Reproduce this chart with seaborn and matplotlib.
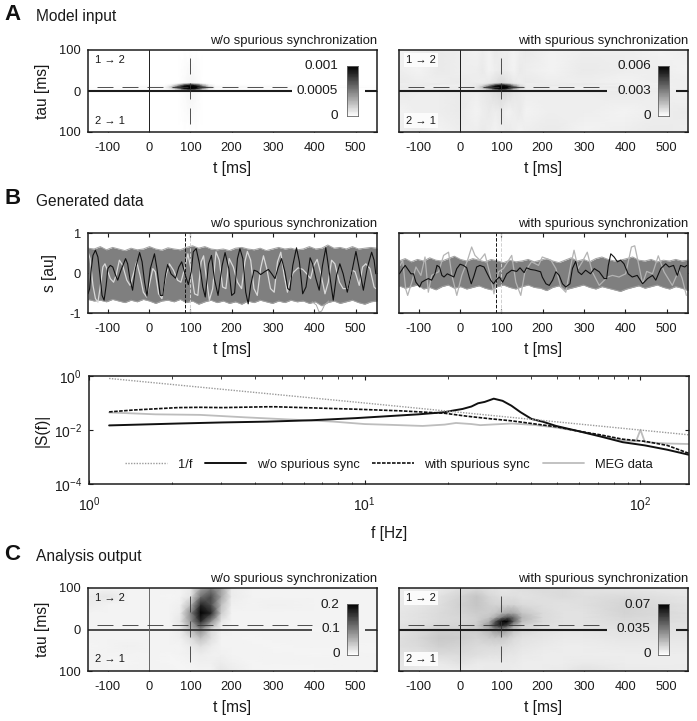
#!/usr/bin/env python3
# coding=utf-8
"""Model input, generated data and analysis output panels."""

from matplotlib import pyplot as plt
import numpy as np
import seaborn as sns

W, H = 697, 721

# --- panel A heat values ---
a_left_t = [-148, 40, 55, 70, 85, 100, 115, 130, 145, 160, 552]
a_left_tau = [-100, -1, 2, 6, 10, 14, 18, 21, 100]
a_left_vals = [
    [0, 0, 0, 0, 0, 0, 0, 0, 0, 0, 0],
    [0, 0, 0, 0, 0.00002, 0.00004, 0.00002, 0, 0, 0, 0],
    [0, 0, 0.00001, 0.00008, 0.0003, 0.0005, 0.0003, 0.00008, 0.00001, 0, 0],
    [0, 0.00001, 0.00008, 0.0004, 0.0009, 0.001, 0.0009, 0.0004, 0.00008, 0.00001, 0],
    [0, 0.00004, 0.00025, 0.0008, 0.001, 0.001, 0.001, 0.0008, 0.00025, 0.00004, 0],
    [0, 0.00001, 0.00008, 0.0004, 0.0009, 0.001, 0.0009, 0.0004, 0.00008, 0.00001, 0],
    [0, 0, 0.00001, 0.00008, 0.0003, 0.0005, 0.0003, 0.00008, 0.00001, 0, 0],
    [0, 0, 0, 0, 0.00002, 0.00004, 0.00002, 0, 0, 0, 0],
    [0, 0, 0, 0, 0, 0, 0, 0, 0, 0, 0],
]

a_right_t = [-148, -100, -50, 0, 40, 55, 70, 85, 100, 115, 130, 145, 160, 220, 300, 400, 480, 552]
a_right_tau = [-100, -50, -1, 2, 6, 10, 14, 18, 21, 50, 100]
# in units of 1e-4
a_right_vals = [
    [4, 5, 3, 4, 4, 5, 4, 3, 4, 5, 4, 3, 4, 5, 3, 4, 5, 4],
    [3, 4, 4, 5, 3, 4, 5, 4, 5, 3, 4, 5, 3, 4, 4, 3, 4, 5],
    [5, 4, 4, 5, 4, 5, 6, 8, 9, 8, 6, 5, 4, 4, 4, 5, 4, 3],
    [4, 5, 4, 3, 5, 5, 9, 20, 32, 20, 8, 5, 5, 3, 4, 4, 4, 3],
    [4, 4, 5, 4, 5, 9, 26, 52, 60, 52, 25, 8, 4, 4, 3, 4, 4, 4],
    [5, 4, 4, 5, 6, 18, 48, 60, 60, 60, 46, 16, 5, 4, 4, 5, 3, 4],
    [4, 5, 3, 4, 5, 9, 26, 52, 60, 52, 25, 8, 4, 5, 4, 3, 4, 4],
    [4, 4, 5, 4, 5, 5, 9, 20, 32, 20, 8, 5, 4, 4, 5, 4, 3, 4],
    [5, 4, 4, 5, 4, 4, 5, 7, 9, 7, 5, 4, 5, 4, 4, 3, 4, 4],
    [4, 3, 5, 4, 4, 5, 3, 4, 5, 4, 3, 5, 4, 3, 5, 4, 4, 3],
    [3, 4, 5, 4, 3, 4, 3, 5, 4, 4, 3, 4, 5, 3, 4, 4, 3, 4],
]

# --- panel C heat values ---
c_left_t = [-148, -100, -50, 0, 50, 75, 100, 125, 150, 175, 200, 250, 300, 400, 552]
c_left_tau = [-100, -80, -60, -40, -20, 0, 20, 40, 60, 80, 100]
# in units of 0.01
c_left_vals = [
    [1, 1, 1, 1, 1, .8, .8, 1, 1, 2, 1.5, 1, .8, .8, 1],
    [1, .8, .8, 1, .8, .8, 1, 1.2, 1.2, 1.5, 1.2, .8, 1, 1, 1],
    [1, 1, 1, 1, .8, 1, 1.2, 1.5, 1.2, 1.2, 1, 1, 1, .8, 1],
    [.8, 1, 1.2, 1, 1, 1, 1.5, 2.5, 1.5, 1, 1, 1, .8, 1, .8],
    [1, 1, 1, 1, 1, 1.2, 2.5, 5, 2.5, 1, 1, .8, 1, 1, 1],
    [1, 1, 1, 1, 1, 1.5, 5, 9, 3, 1.2, 1, 1, 1, .8, 1],
    [1, 1, 1, 1, 1, 2, 8, 17, 9, 2, 1, 1, 1, 1, 1],
    [1, 1, 1, 1, 1, 1.5, 9, 20, 17, 4, 1, 1, 1, 1, 1],
    [1.5, 1, 1, 1, 1, 1.2, 5, 17, 14, 5, 1.2, 1, 1.2, 1, 1],
    [1.5, 2, 1, 1, .8, 1, 2, 11, 14, 7, 1.5, 1, 1, 1, 1],
    [1, 1, 1, 1, 1, 1, 1.5, 7, 10, 7, 1.5, 1, 1, 1, 1],
]

c_right_t = [-148, -100, -50, 0, 40, 70, 85, 100, 115, 130, 150, 200, 250, 300, 400, 552]
c_right_tau = [-100, -80, -60, -40, -20, 0, 10, 20, 30, 40, 60, 80, 100]
# in units of 0.001
c_right_vals = [
    [7, 6, 5, 5, 5, 6, 6, 6, 6, 5, 5, 5, 6, 8, 6, 5],
    [7, 6, 6, 8, 6, 6, 6, 6, 6, 6, 5, 5, 5, 6, 5, 5],
    [8, 8, 10, 10, 9, 8, 8, 8, 7, 7, 6, 5, 5, 5, 5, 5],
    [9, 10, 13, 12, 10, 10, 10, 10, 9, 8, 7, 6, 5, 5, 6, 6],
    [9, 11, 15, 14, 12, 14, 15, 15, 13, 10, 8, 7, 6, 6, 7, 7],
    [8, 10, 13, 13, 14, 20, 28, 30, 24, 16, 11, 8, 7, 7, 8, 8],
    [8, 9, 11, 12, 14, 28, 52, 62, 50, 24, 13, 9, 8, 8, 9, 8],
    [7, 8, 10, 11, 13, 22, 46, 68, 70, 44, 18, 10, 8, 8, 10, 9],
    [7, 8, 10, 11, 13, 16, 22, 36, 46, 40, 20, 10, 8, 8, 11, 9],
    [7, 8, 10, 12, 14, 14, 16, 20, 24, 24, 16, 10, 8, 8, 12, 9],
    [6, 7, 9, 13, 16, 13, 12, 12, 12, 12, 10, 9, 8, 9, 12, 8],
    [5, 6, 8, 12, 16, 11, 10, 9, 9, 9, 8, 9, 10, 9, 10, 7],
    [5, 5, 6, 9, 10, 8, 8, 7, 7, 8, 9, 10, 10, 8, 7, 6],
]

# --- panel B traces ---
left_black_t = [-148, -144, -140, -136, -130, -124, -119, -114, -109, -104, -100, -94, -88, -81, -76,
                -68, -57, -52, -46, -40, -33, -23, -17, -11, -5, 3, 13, 19, 27, 33, 40, 45, 53, 64,
                72, 79, 88, 95, 102, 107, 114, 122, 130, 136, 144, 151, 158, 167, 177, 184, 193,
                200, 207, 214, 220, 227, 234, 240, 246, 254, 262, 270, 281, 289, 297, 305, 313,
                321, 329, 336, 341, 348, 357, 364, 372, 380, 390, 396, 404, 412, 420, 428, 434,
                446, 454, 462, 470, 480, 491, 501, 509, 519, 528, 539, 545, 549]
left_black_s = [-.52, -.39, .11, .44, .57, .40, -.06, -.56, -.68, -.31, .11, .19, .15, -.06, -.18,
                .07, .36, .23, -.18, -.43, .11, .51, .28, -.23, -.58, .11, .48, .11, -.56, -.56, -.02, .21, -.02, -.13,
                .15, .28, -.06, -.29, .03, .53, .61, .23, -.35, -.60, .23, .44, -.14, -.56, .19, .51, .11,
                -.56, -.50, .36, .61, .36, -.48, -.77, -.31, .07, .04, -.04, .04, .09, -.02, -.14, .15,
                .36, .03, -.39, -.43, .19, .63, .28, -.52, -.35, .38, .23, -.14, -.43, .19, .63, .19,
                -.68, -.06, .23, -.02, -.48, .03, .54, .11, -.43, .11, .52, .32, -.02]
left_light_t = [-148, -143, -136, -130, -124, -119, -112, -107, -101, -94, -86, -80, -72, -64, -54,
                -46, -38, -30, -22, -14, -6, 2, 9, 15, 23, 31, 41, 49, 59, 69, 77, 86, 94, 101, 110,
                118, 126, 132, 140, 146, 154, 162, 170, 178, 186, 194, 204, 214, 224, 232, 238, 246,
                254, 262, 270, 277, 285, 294, 303, 311, 319, 327, 335, 343, 349, 361, 372, 382, 391,
                399, 407, 416, 426, 434, 442, 450, 461, 470, 482, 492, 499, 509, 517, 525, 535, 545, 549]
left_light_s = [.53, .36, -.31, -.64, -.73, -.39, .15, .23, .07, -.14, -.23, -.06, .32, .19, -.18,
                -.31, -.02, .28, -.06, -.48, -.60, -.23, .11, .03, -.52, -.64, -.06, .23, .07, -.18, -.23, .11, .48, .11, -.52,
                -.56, .28, .43, -.23, -.68, -.39, .53, .32, -.35, -.39, .36, .15, -.23, -.39, .28, .54, .32,
                -.39, -.56, .11, .43, .11, -.39, -.48, .28, .52, -.06, -.48, -.14, .01, .13, .09, -.02, -.14,
                .19, .34, -.02, -.52, -.23, .32, .23, -.23, -.39, -.39, .07, .03, -.31, .15, .23, .11, -.35, -.39]
left_upper = [.62, .60, .66, .58, .64, .60, .56, .62, .58, .60, .66, .60, .57, .63, .60, .58,
              .64, .68, .62, .66, .60, .58, .60, .56, .62, .64, .60, .58, .62, .56, .60, .64,
              .60, .62, .58, .60, .66, .60, .62, .70, .62, .64, .60, .66, .60, .62, .64, .62]
left_lower = [-.66, -.70, -.68, -.72, -.66, -.70, -.74, -.68, -.72, -.66, -.70, -.76, -.70, -.68, -.72, -.66,
              -.74, -.70, -.78, -.72, -.68, -.74, -.70, -.76, -.72, -.78, -.70, -.74, -.68, -.72, -.76, -.70,
              -.74, -.68, -.72, -.70, -.76, -.72, -.82, -.74, -.70, -.76, -.72, -.68, -.74, -.78, -.72, -.70]
left_outlier_t = [395, 405, 412, 418, 425, 435]
left_outlier_s = [-.72, -.80, -.98, -.95, -.80, -.70]

right_black_t = [-147, -139, -133, -125, -119, -113, -107, -98, -93, -85, -77, -69, -61, -56, -50,
                 -44, -39, -31, -23, -15, -8, 0, 8, 16, 22, 27, 34, 40, 48, 58, 66, 74, 81, 87, 95,
                 103, 113, 125, 137, 145, 155, 161, 170, 182, 195, 199, 208, 216, 224, 232, 240,
                 248, 256, 266, 272, 280, 286, 294, 304, 316, 325, 337, 349, 355, 359, 365, 373,
                 381, 389, 397, 407, 417, 429, 442, 454, 466, 474, 486, 498, 506, 517, 526, 534, 544, 549]
right_black_s = [-.02, .11, .19, .07, -.02, -.02, -.23, -.35, -.23, -.18, -.14, -.18, -.02, .19, .15,
                 -.06, -.10, -.02, -.06, -.10, .11, .22, .19, .13, -.10, -.27, -.06, .15, .19, .15, -.02, -.18, -.27, -.18, -.10,
                 -.23, -.02, .07, .04, .13, .01, .13, .09, .07, .03, -.10, -.27, -.31, -.18, .03, -.06,
                 -.27, -.35, -.27, .11, .29, .03, -.04, .07, -.02, .11, .03, -.14, -.14, .19, .48, .40,
                 .28, .32, .23, -.02, -.10, -.06, -.27, -.14, -.06, -.18, .11, .23, .15, .19, -.06, .19, .15, .19]
right_light_t = [-145, -139, -132, -127, -117, -107, -95, -85, -77, -69, -52, -40, -28, -20, -8,
                 4, 18, 28, 36, 48, 60, 73, 82, 93, 105, 125, 135, 147, 157, 173, 190, 199, 220,
                 232, 244, 256, 268, 276, 286, 296, 308, 320, 337, 357, 369, 385, 401, 415, 423,
                 431, 442, 452, 466, 480, 494, 514, 530, 538, 548]
right_light_s = [.19, .32, -.39, -.56, -.23, .15, -.06, .40, -.48, -.06, .03, .44, .52, -.06, -.56,
                 -.06, .32, .65, .44, .32, .48, -.06, -.52, .03, .11, .44, -.23, -.56, .03, .28, .19, .40, .32,
                 .11, -.35, -.48, .19, .57, .11, .28, .52, .03, -.31, -.10, -.06, -.10, -.02, .65, .68,
                 .29, -.27, .04, -.02, .43, .03, -.31, .07, -.14, -.56]
right_upper = [.30, .36, .28, .34, .30, .38, .32, .30, .36, .42, .34, .30, .36, .32, .28, .34,
               .30, .26, .32, .28, .30, .34, .28, .32, .36, .30, .26, .32, .38, .30, .34, .28,
               .36, .40, .34, .30, .32, .36, .40, .32, .30, .34, .28, .32, .30, .34, .30, .32]
right_lower = [-.32, -.38, -.34, -.30, -.40, -.36, -.42, -.34, -.30, -.38, -.34, -.40, -.36, -.32, -.38, -.42,
               -.34, -.30, -.36, -.40, -.34, -.30, -.36, -.38, -.44, -.36, -.32, -.42, -.38, -.34, -.30, -.36,
               -.40, -.34, -.38, -.42, -.46, -.40, -.36, -.32, -.38, -.34, -.30, -.36, -.40, -.34, -.38, -.44]

# --- spectrum, log10 ---
one_over_f_logf = [.073, 1.0, 2.177]
one_over_f_logs = [-.09, -1.0, -2.18]
without_logf = [.073, .323, .484, .645, .806, .968, 1.129, 1.194, 1.290, 1.315, 1.355, 1.387, 1.411, 1.435,
                1.468, 1.5, 1.532, 1.565, 1.605, 1.645, 1.694, 1.774, 1.855, 1.935, 2.016, 2.097, 2.177]
without_logs = [-1.83, -1.76, -1.72, -1.69, -1.64, -1.56, -1.46, -1.42, -1.34, -1.29, -1.22, -1.13, -1.01, -.96,
                -.84, -.92, -1.10, -1.34, -1.59, -1.69, -1.85, -2.04, -2.24, -2.45, -2.57, -2.73, -2.92]
with_logf = [.073, .161, .323, .403, .484, .645, .677, .806, .968, 1.129, 1.290, 1.371, 1.452, 1.532,
             1.613, 1.694, 1.774, 1.855, 1.935, 2.016, 2.097, 2.177]
with_logs = [-1.33, -1.26, -1.17, -1.16, -1.17, -1.14, -1.14, -1.18, -1.23, -1.29, -1.38, -1.49, -1.58, -1.66,
             -1.77, -1.88, -2.04, -2.18, -2.34, -2.42, -2.57, -2.87]
meg_logf = [.073, .242, .403, .565, .726, .887, 1.0, 1.097, 1.21, 1.290, 1.331, 1.387, 1.419, 1.532,
            1.613, 1.694, 1.774, 1.855, 1.935, 1.984, 2.0, 2.016, 2.097, 2.177]
meg_logs = [-1.35, -1.42, -1.44, -1.53, -1.61, -1.69, -1.78, -1.81, -1.85, -1.80, -1.74, -1.78, -1.82, -1.76,
            -1.81, -1.91, -2.04, -2.22, -2.38, -2.42, -1.99, -2.45, -2.50, -2.52]

t_ticks = [-100, 0, 100, 200, 300, 400, 500]
t_labels = ["-100", "0", "100", "200", "300", "400", "500"]
title_left = "w/o spurious synchronization"
title_right = "with spurious synchronization"

DARK = "#1c1c1c"
FS_TICK = 9.3
FS_LABEL = 11.2
FS_TITLE = 9.4

sns.set_theme(style="ticks", rc={
    "axes.linewidth": 1.1, "axes.edgecolor": DARK, "text.color": "#1a1a1a",
    "xtick.color": DARK, "ytick.color": DARK, "axes.labelcolor": "#1a1a1a",
    "lines.scale_dashes": False, "mathtext.default": "regular",
})
plt.rcParams["font.family"] = ["Liberation Sans", "DejaVu Sans"]


def px_axes(fig, x0, y0, x1, y1):
    """Axes placed by pixel edges, y measured from the top."""
    return fig.add_axes([x0 / W, 1 - y1 / H, (x1 - x0) / W, (y1 - y0) / H])


def style_time_axis(ax, label_pad=5):
    ax.set_xlim(-148, 552)
    ax.set_xticks(t_ticks)
    ax.set_xticklabels(t_labels, fontsize=FS_TICK)
    ax.tick_params(direction="in", length=2.6, width=0.8, top=True, right=True,
                   labelsize=FS_TICK, pad=7.5)
    ax.set_xlabel("t [ms]", fontsize=FS_LABEL, labelpad=label_pad)


def add_colorbar(ax, vmax):
    cax = ax.inset_axes([479, -62, 26, 124], transform=ax.transData)
    gradient = np.linspace(vmax, 0, 64).reshape(-1, 1)
    sns.heatmap(gradient, ax=cax, cmap="gray_r", vmin=0, vmax=vmax, cbar=False,
                xticklabels=False, yticklabels=False, rasterized=True)
    for spine in cax.spines.values():
        spine.set_visible(True)
        spine.set_color("#666666")
        spine.set_linewidth(0.6)


def heat_panel(fig, rect, t, tau, vals, vmax, cb_labels, title, line_end, dash_end,
               cb_text_t, ylabel=None, line_w=1.5, axis_col=DARK, boxed=False):
    ax = px_axes(fig, *rect)
    ax.pcolormesh(t, tau, np.array(vals), cmap="gray_r", vmin=0, vmax=vmax,
                  shading="gouraud", rasterized=True)
    ax.set_ylim(-100, 100)
    ax.set_yticks([-100, 0, 100])
    ax.set_yticklabels(["100", "0", "100"] if ylabel else [], fontsize=FS_TICK)
    style_time_axis(ax)
    ax.tick_params(axis="y", pad=5)
    ax.set_title(title, loc="right", fontsize=FS_TITLE, pad=4)
    if ylabel:
        ax.set_ylabel(ylabel, fontsize=FS_LABEL, labelpad=7)

    # guides
    ax.plot([-148, line_end], [0, 0], color=DARK, lw=line_w, solid_capstyle="butt")
    ax.plot([523, 552], [0, 0], color=DARK, lw=line_w, solid_capstyle="butt")
    ax.axvline(0, color=axis_col, lw=0.7)
    ax.plot([-127, dash_end], [10, 10], color="#333333", lw=0.6, dashes=(11.5, 6.5))
    ax.plot([100, 100], [80, -80], color="#333333", lw=0.6, dashes=(11.5, 6.5))

    box = dict(facecolor="#fbfbfb", edgecolor="none", pad=1.5) if boxed else None
    ax.text(-130, 75, "1 \u2192 2", fontsize=8, va="center", ha="left", bbox=box)
    ax.text(-130, -72, "2 \u2192 1", fontsize=8, va="center", ha="left", bbox=box)

    for lab, y in zip(cb_labels, [60, 0, -60]):
        ax.text(cb_text_t, y, lab, fontsize=9.7, ha="right", va="center")
    add_colorbar(ax, vmax)
    return ax


def trace_panel(fig, rect, upper, lower, black_t, black_s, light_t, light_s, light_col, title,
                ylabel=None, outlier=None):
    ax = px_axes(fig, *rect)
    band_t = np.linspace(-148, 552, len(upper))
    ax.fill_between(band_t, lower, upper, color="#7f7f7f", lw=0)
    sns.lineplot(x=band_t, y=upper, ax=ax, color="#a2a2a2", lw=0.7, estimator=None, sort=False)
    sns.lineplot(x=band_t, y=lower, ax=ax, color="#a2a2a2", lw=0.7, estimator=None, sort=False)
    if outlier:
        sns.lineplot(x=outlier[0], y=outlier[1], ax=ax, color="#a8a8a8", lw=0.7,
                     estimator=None, sort=False)
    ax.axvline(100, color="#d0d0d0", lw=0.7, dashes=(2.5, 1.2))
    sns.lineplot(x=light_t, y=light_s, ax=ax, color=light_col, lw=0.9, estimator=None, sort=False)
    sns.lineplot(x=black_t, y=black_s, ax=ax, color="#111111", lw=0.8, estimator=None, sort=False)
    ax.axvline(88, color="#111111", lw=0.7, dashes=(2.5, 1.2))
    ax.set_ylim(-1, 1)
    ax.set_yticks([-1, 0, 1])
    ax.set_yticklabels(["-1", "0", "1"] if ylabel else [], fontsize=FS_TICK)
    style_time_axis(ax)
    ax.tick_params(axis="y", pad=5)
    ax.set_title(title, loc="right", fontsize=FS_TITLE, pad=4)
    if ylabel:
        ax.set_ylabel(ylabel, fontsize=FS_LABEL, labelpad=9)
    return ax


def spectrum_panel(fig):
    ax = px_axes(fig, 89, 376, 689, 484)
    series = [
        (one_over_f_logf, one_over_f_logs, "1/f", "#9a9a9a", 1.0, (0, (1, 1))),
        (without_logf, without_logs, "w/o spurious sync", "#111111", 1.4, "-"),
        (with_logf, with_logs, "with spurious sync", "#111111", 1.2, (0, (2.6, 1))),
        (meg_logf, meg_logs, "MEG data", "#bdbdbd", 1.3, "-"),
    ]
    for logf, logs, name, col, lw, ls in reversed(series):
        sns.lineplot(x=10 ** np.array(logf), y=10 ** np.array(logs), ax=ax, color=col,
                     lw=lw, linestyle=ls, label=name, estimator=None, sort=False)
    ax.set_xscale("log")
    ax.set_yscale("log")
    ax.set_xlim(1, 150)
    ax.set_ylim(1e-4, 1)
    ax.set_yticks([1e-4, 1e-2, 1])
    ax.set_yticklabels(["$10^{-4}$", "$10^{-2}$", "$10^{0}$"], fontsize=10)
    ax.minorticks_off()
    ax.set_xticks([1, 10, 100])
    ax.set_xticklabels(["$10^{0}$", "$10^{1}$", "$10^{2}$"], fontsize=10)
    ax.set_xticks([f * d for d in (1, 10, 100) for f in range(2, 10) if f * d <= 150], minor=True)
    ax.tick_params(which="major", direction="in", length=3, width=0.8, top=True, right=True)
    ax.tick_params(axis="x", which="major", pad=8)
    ax.tick_params(axis="y", which="major", pad=5)
    ax.tick_params(which="minor", direction="in", length=1.8, width=0.6, top=True, bottom=True)
    ax.set_xlabel("f [Hz]", fontsize=FS_LABEL, labelpad=9)
    ax.set_ylabel("|S(f)|", fontsize=FS_LABEL, labelpad=3)
    handles, labels = ax.get_legend_handles_labels()
    ax.legend(handles[::-1], labels[::-1], ncol=4, loc="center", bbox_to_anchor=(0.5, 0.18),
              frameon=False, fontsize=9.3, handlelength=3.2, handletextpad=0.85,
              columnspacing=0.97, borderpad=0)
    return ax


def main():
    fig = plt.figure(figsize=(W / 100, H / 100), dpi=100, facecolor="white")

    for letter, y, name in [("A", 14, "Model input"), ("B", 199, "Generated data"),
                            ("C", 554, "Analysis output")]:
        fig.text(4 / W, 1 - y / H, letter, fontsize=16, fontweight="bold", va="center",
                 color="#111111")
        fig.text(36 / W, 1 - (y + 2) / H, name, fontsize=11.2, va="center")

    heat_panel(fig, (88, 50, 377, 132), a_left_t, a_left_tau, a_left_vals, 0.001,
               ["0.001", "0.0005", "0"], title_left, 345, 334, 458, ylabel="tau [ms]")
    heat_panel(fig, (399, 50, 688, 132), a_right_t, a_right_tau, np.array(a_right_vals) * 1e-4, 0.006,
               ["0.006", "0.003", "0"], title_right, 357, 357, 462, boxed=True)

    trace_panel(fig, (88, 233, 377, 313), left_upper, left_lower, left_black_t, left_black_s,
                left_light_t, left_light_s, "#d8d8d8", title_left, ylabel="s [au]",
                outlier=(left_outlier_t, left_outlier_s))
    trace_panel(fig, (399, 233, 688, 313), right_upper, right_lower, right_black_t, right_black_s,
                right_light_t, right_light_s, "#b4b4b4", title_right)

    spectrum_panel(fig)

    heat_panel(fig, (88, 588, 377, 671), c_left_t, c_left_tau, np.array(c_left_vals) * 0.01, 0.2,
               ["0.2", "0.1", "0"], title_left, 394, 394, 462, ylabel="tau [ms]", line_w=1.1,
               axis_col="#666666")
    heat_panel(fig, (399, 588, 688, 671), c_right_t, c_right_tau, np.array(c_right_vals) * 0.001, 0.07,
               ["0.07", "0.035", "0"], title_right, 357, 357, 462, boxed=True)

    fig.savefig("out.png", dpi=100)


if __name__ == "__main__":
    main()
